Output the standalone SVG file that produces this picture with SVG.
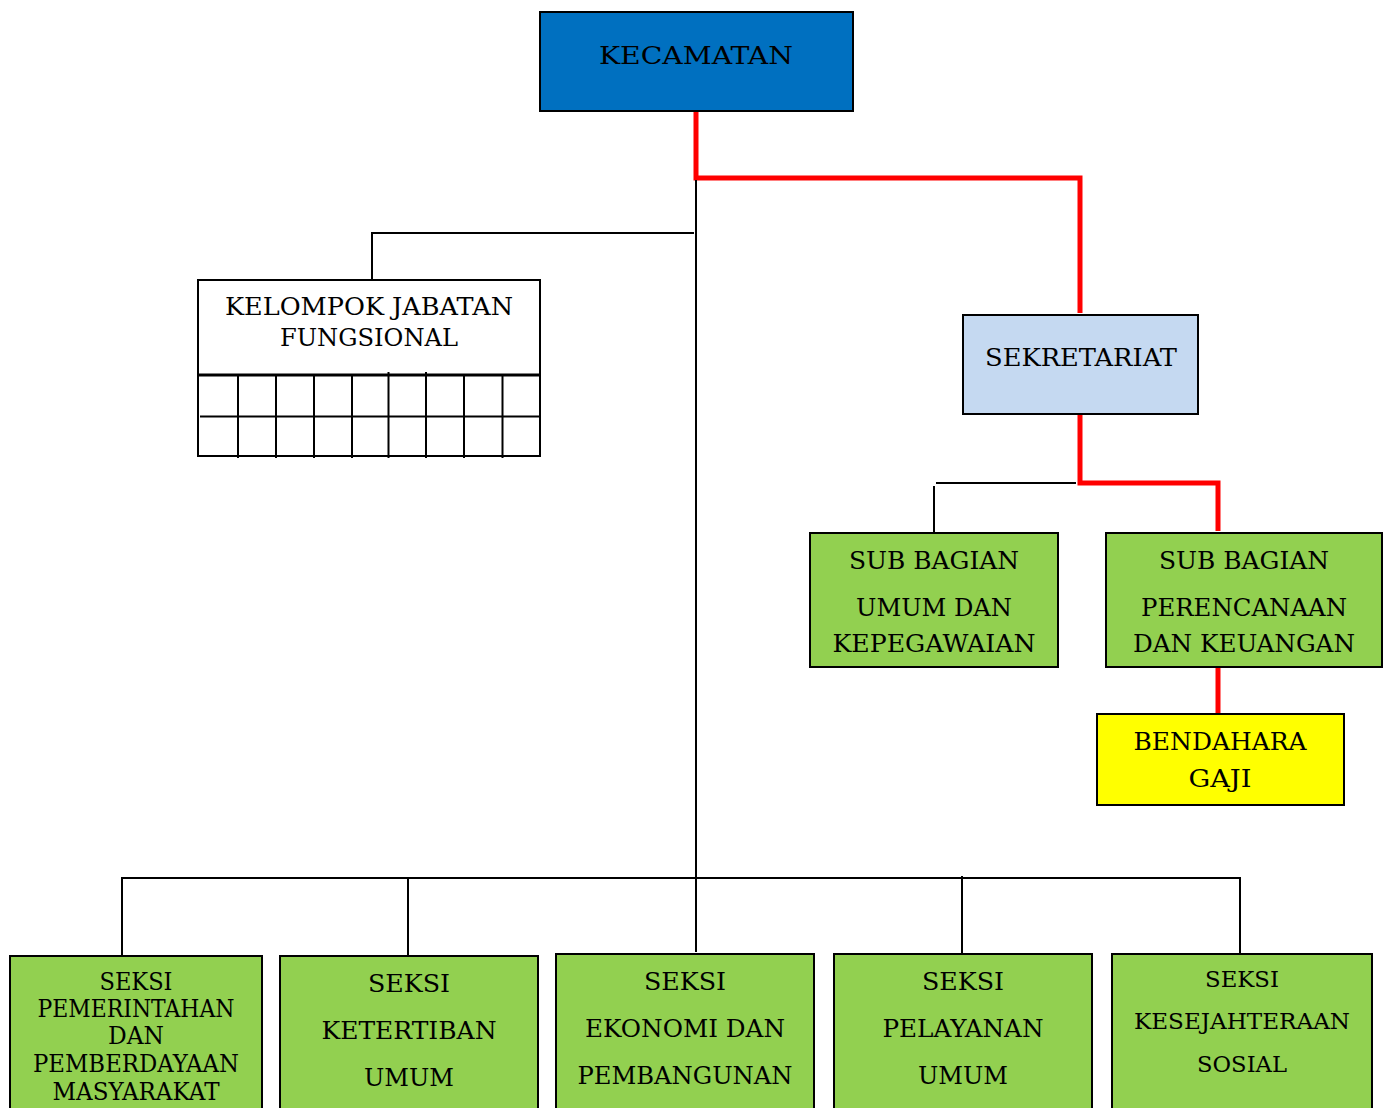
<svg xmlns="http://www.w3.org/2000/svg" width="1388" height="1108" viewBox="0 0 1388 1108">
<style>
.box{stroke:#000;stroke-width:2}
.g{fill:#92D050}
.t{font-family:"DejaVu Serif","Liberation Serif",serif;fill:#000;text-anchor:middle;font-size:24px}
.s{font-size:22px}
.red{stroke:#FF0000;stroke-width:5;fill:none}
.blk{stroke:#000;stroke-width:2;fill:none}
</style>
<rect width="1388" height="1108" fill="#fff"/>
<g id="connectors">
<path class="red" d="M696 111 V178 H1080 V313"/>
<path class="blk" d="M696 180 V952"/>
<path class="blk" d="M694 233 H372 V280"/>
<path class="red" d="M1080 414 V483 H1218 V531"/>
<path class="blk" d="M1076 483 H936"/>
<path class="blk" d="M934 486 V533"/>
<path class="red" d="M1218 667 V714"/>
<path class="blk" d="M122 955 V878 H1240 V954"/>
<path class="blk" d="M408 878 V956"/>
<path class="blk" d="M962 876 V954"/>
</g>
<g id="kecamatan">
<rect class="box" x="540" y="12" width="313" height="99" fill="#0070C0"/>
<text class="t" x="696" y="64" font-size="25" textLength="194" lengthAdjust="spacingAndGlyphs">KECAMATAN</text>
</g>
<g id="kelompok">
<rect class="box" x="198" y="280" width="342" height="176" fill="#fff"/>
<path d="M198 375 H540" stroke="#000" stroke-width="3"/>
<path class="blk" d="M200 416.5 H541"/>
<path class="blk" d="M238 375 V458 M276 375 V458 M314 375 V458 M352 375 V458 M388.5 372 V458 M426 372 V458 M464 375 V458 M502.5 375 V458"/>
<text class="t" x="369" y="315" font-size="23" textLength="288" lengthAdjust="spacingAndGlyphs">KELOMPOK JABATAN</text>
<text class="t" x="369" y="346" font-size="23" textLength="178" lengthAdjust="spacingAndGlyphs">FUNGSIONAL</text>
</g>
<g id="sekretariat">
<rect class="box" x="963" y="315" width="235" height="99" fill="#C5D9F1"/>
<text class="t" x="1081" y="366" textLength="192" lengthAdjust="spacingAndGlyphs">SEKRETARIAT</text>
</g>
<g id="subbag-umum">
<rect class="box g" x="810" y="533" width="248" height="134"/>
<text class="t" x="934" y="569" textLength="170" lengthAdjust="spacingAndGlyphs">SUB BAGIAN</text>
<text class="t" x="934" y="616" textLength="156" lengthAdjust="spacingAndGlyphs">UMUM DAN</text>
<text class="t" x="934" y="652" textLength="203" lengthAdjust="spacingAndGlyphs">KEPEGAWAIAN</text>
</g>
<g id="subbag-perencanaan">
<rect class="box g" x="1106" y="533" width="276" height="134"/>
<text class="t" x="1244" y="569" textLength="170" lengthAdjust="spacingAndGlyphs">SUB BAGIAN</text>
<text class="t" x="1244" y="616" textLength="206" lengthAdjust="spacingAndGlyphs">PERENCANAAN</text>
<text class="t" x="1244" y="652" textLength="222" lengthAdjust="spacingAndGlyphs">DAN KEUANGAN</text>
</g>
<g id="bendahara">
<rect class="box" x="1097" y="714" width="247" height="91" fill="#FFFF00"/>
<text class="t" x="1220" y="750" textLength="173" lengthAdjust="spacingAndGlyphs">BENDAHARA</text>
<text class="t" x="1220" y="787" textLength="63" lengthAdjust="spacingAndGlyphs">GAJI</text>
</g>
<g id="seksi-pemerintahan">
<rect class="box g" x="10" y="956" width="252" height="170"/>
<text class="t" x="136" y="990" textLength="73" lengthAdjust="spacingAndGlyphs">SEKSI</text>
<text class="t" x="136" y="1017" textLength="197" lengthAdjust="spacingAndGlyphs">PEMERINTAHAN</text>
<text class="t" x="136" y="1044" textLength="56" lengthAdjust="spacingAndGlyphs">DAN</text>
<text class="t" x="136" y="1072" textLength="206" lengthAdjust="spacingAndGlyphs">PEMBERDAYAAN</text>
<text class="t" x="136" y="1100" textLength="167" lengthAdjust="spacingAndGlyphs">MASYARAKAT</text>
</g>
<g id="seksi-ketertiban">
<rect class="box g" x="280" y="956" width="258" height="170"/>
<text class="t" x="409" y="992" textLength="82" lengthAdjust="spacingAndGlyphs">SEKSI</text>
<text class="t" x="409" y="1039" textLength="175" lengthAdjust="spacingAndGlyphs">KETERTIBAN</text>
<text class="t" x="409" y="1086" textLength="90" lengthAdjust="spacingAndGlyphs">UMUM</text>
</g>
<g id="seksi-ekonomi">
<rect class="box g" x="556" y="954" width="258" height="170"/>
<text class="t" x="685" y="990" textLength="82" lengthAdjust="spacingAndGlyphs">SEKSI</text>
<text class="t" x="685" y="1037" textLength="200" lengthAdjust="spacingAndGlyphs">EKONOMI DAN</text>
<text class="t" x="685" y="1084" textLength="215" lengthAdjust="spacingAndGlyphs">PEMBANGUNAN</text>
</g>
<g id="seksi-pelayanan">
<rect class="box g" x="834" y="954" width="258" height="170"/>
<text class="t" x="963" y="990" textLength="82" lengthAdjust="spacingAndGlyphs">SEKSI</text>
<text class="t" x="963" y="1037" textLength="161" lengthAdjust="spacingAndGlyphs">PELAYANAN</text>
<text class="t" x="963" y="1084" textLength="90" lengthAdjust="spacingAndGlyphs">UMUM</text>
</g>
<g id="seksi-kesejahteraan">
<rect class="box g" x="1112" y="954" width="260" height="170"/>
<text class="t s" x="1242" y="987" textLength="74" lengthAdjust="spacingAndGlyphs">SEKSI</text>
<text class="t s" x="1242" y="1029" textLength="216" lengthAdjust="spacingAndGlyphs">KESEJAHTERAAN</text>
<text class="t s" x="1242" y="1072" textLength="90" lengthAdjust="spacingAndGlyphs">SOSIAL</text>
</g>
</svg>
